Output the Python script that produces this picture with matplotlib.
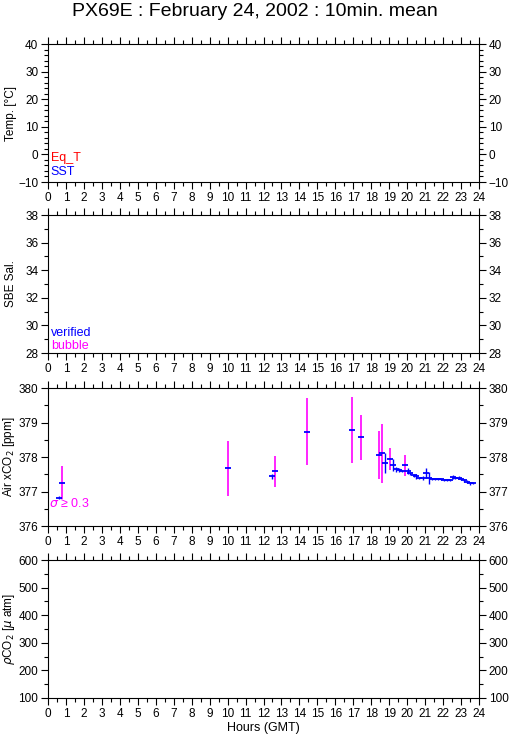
import matplotlib
matplotlib.use('Agg')
import matplotlib.pyplot as plt
import numpy as np
from matplotlib.ticker import MultipleLocator

plt.rcParams['font.family'] = ['Liberation Sans', 'DejaVu Sans']

# 10-min mean air xCO2 (hours GMT, ppm, std dev)
hours = [0.61, 0.76, 10.0, 12.45, 12.64, 14.44, 16.93, 17.43, 18.43, 18.58,
         18.74, 19.06, 19.23, 19.40, 19.56, 19.71, 19.88, 20.03, 20.17, 20.36,
         20.50, 20.65, 20.88, 21.05, 21.23, 21.40, 21.57, 21.73, 21.90, 22.05,
         22.20, 22.37, 22.53, 22.68, 22.87, 23.02, 23.18, 23.31, 23.52, 23.68]
air_co2 = [376.82, 377.26, 377.67, 377.44, 377.59, 378.74, 378.78, 378.57, 378.06, 378.11,
           377.82, 377.94, 377.77, 377.64, 377.62, 377.59, 377.76, 377.59, 377.53, 377.47,
           377.44, 377.39, 377.40, 377.53, 377.40, 377.36, 377.36, 377.36, 377.35, 377.33,
           377.33, 377.34, 377.42, 377.39, 377.40, 377.37, 377.32, 377.29, 377.24, 377.25]
air_sd = [0.05, 0.48, 0.80, 0.07, 0.45, 0.98, 0.95, 0.65, 0.69, 0.85,
          0.29, 0.33, 0.18, 0.07, 0.05, 0.03, 0.31, 0.08, 0.04, 0.04,
          0.07, 0.04, 0.06, 0.14, 0.17, 0.03, 0.03, 0.03, 0.03, 0.03,
          0.03, 0.03, 0.06, 0.04, 0.04, 0.03, 0.04, 0.03, 0.04, 0.03]

panels = [
    ('Temp. [°C]', (-10, 40), 10, 2),
    ('SBE Sal.', (28, 38), 2, 1),
    ('Air xCO$_2$ [ppm]', (376, 380), 1, 0.5),
    ('$\\rho$CO$_2$ [$\\mu$ atm]', (100, 600), 100, 50),
]
bottoms = [0.7537, 0.5223, 0.2882, 0.0555]

fig = plt.figure(figsize=(5.09, 7.39), dpi=100)
axes = []
for (label, ylim, major, minor), b in zip(panels, bottoms):
    ax = fig.add_axes([0.0943, b, 0.8468, 0.1867])
    ax.set_xlim(0, 24)
    ax.set_ylim(*ylim)
    ax.xaxis.set_major_locator(MultipleLocator(1))
    ax.xaxis.set_minor_locator(MultipleLocator(0.5))
    ax.yaxis.set_major_locator(MultipleLocator(major))
    ax.yaxis.set_minor_locator(MultipleLocator(minor))
    ax.tick_params(which='both', direction='out', top=True, right=True,
                   labelright=True, labelsize=8.5, width=0.8, pad=2)
    ax.tick_params(which='major', length=5)
    ax.tick_params(which='minor', length=3)
    ax.set_ylabel(label, fontsize=8.5)
    ax.yaxis.set_label_coords(-0.072, 0.5)
    for s in ax.spines.values():
        s.set_linewidth(0.8)
    axes.append(ax)

ax1, ax2, ax3, ax4 = axes

ax1.text(0.15, -2.5, 'Eq_T', color='red', fontsize=9)
ax1.text(0.15, -7.5, 'SST', color='blue', fontsize=9)
ax2.text(0.15, 29.2, 'verified', color='blue', fontsize=9)
ax2.text(0.15, 28.3, 'bubble', color='magenta', fontsize=9)

h = np.array(hours)
c = np.array(air_co2)
s = np.array(air_sd)
big = s >= 0.3
ax3.vlines(h[~big], c[~big] - s[~big], c[~big] + s[~big], color='blue', lw=1)
ax3.vlines(h[big], c[big] - s[big], c[big] + s[big], color='magenta', lw=1.2)
ax3.plot(h, c, ls='none', marker='_', ms=5, mew=1.3, color='blue')
ax3.text(0.05, 376.55, '$\\sigma$ ≥ 0.3', color='magenta', fontsize=9)

ax4.set_xlabel('Hours (GMT)', fontsize=9, labelpad=2)

fig.text(0.5, 0.984, 'PX69E : February 24, 2002 : 10min. mean',
         ha='center', va='center', fontsize=14)

plt.savefig('out.png', dpi=100)
